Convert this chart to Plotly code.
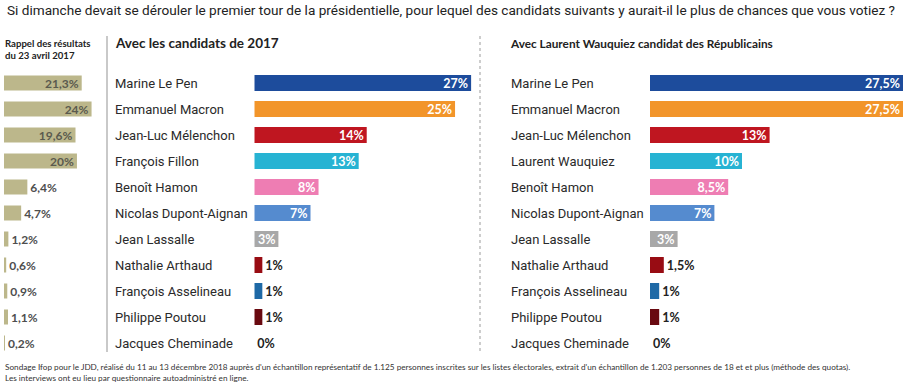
import plotly.graph_objects as go

# ---------------- data ----------------
candidates_2017 = ["Marine Le Pen", "Emmanuel Macron", "Jean-Luc Mélenchon", "François Fillon",
                   "Benoît Hamon", "Nicolas Dupont-Aignan", "Jean Lassalle", "Nathalie Arthaud",
                   "François Asselineau", "Philippe Poutou", "Jacques Cheminade"]
candidates_wauquiez = ["Marine Le Pen", "Emmanuel Macron", "Jean-Luc Mélenchon", "Laurent Wauquiez",
                       "Benoît Hamon", "Nicolas Dupont-Aignan", "Jean Lassalle", "Nathalie Arthaud",
                       "François Asselineau", "Philippe Poutou", "Jacques Cheminade"]
rappel_2017 = [21.3, 24, 19.6, 20, 6.4, 4.7, 1.2, 0.6, 0.9, 1.1, 0.2]
scores_2017 = [27, 25, 14, 13, 8, 7, 3, 1, 1, 1, 0]
scores_wauquiez = [27.5, 27.5, 13, 10, 8.5, 7, 3, 1.5, 1, 1, 0]
party_colors = ["#1d4c9c", "#f2952a", "#bf1620", "#27b3d3", "#ee7db3", "#558bcf",
                "#a8a8a8", "#980c13", "#1e69a6", "#690910", "#ffffff"]

title_text = ("Si dimanche devait se dérouler le premier tour de la présidentielle, pour lequel des "
              "candidats suivants y aurait-il le plus de chances que vous votiez ?")
rappel_title = "Rappel des résultats<br>du 23 avril 2017"
panel_titles = ["Avec les candidats de 2017", "Avec Laurent Wauquiez candidat des Républicains"]
footer_text = ("Sondage Ifop pour le JDD, réalisé du 11 au 13 décembre 2018 auprès d'un échantillon "
               "représentatif de 1.125 personnes inscrites sur les listes électorales, extrait d'un "
               "échantillon de 1.203 personnes de 18 et et plus (méthode des quotas).<br>"
               "Les interviews ont eu lieu par questionnaire autoadministré en ligne.")

W, H = 906, 390
NARROW = "Lato, Roboto, sans-serif"
REG = "Roboto, Liberation Sans, Arial, sans-serif"


def fmt(v):
    return f"{v:g}".replace(".", ",") + "%"


def px(x):
    return x / W


def py(y):
    return 1 - y / H


fig = go.Figure()

# Rappel bars
fig.add_trace(go.Bar(
    x=rappel_2017, y=candidates_2017, orientation="h", xaxis="x", yaxis="y",
    marker=dict(color="#bcb78b", line=dict(width=0)), width=0.58,
    text=[fmt(v) for v in rappel_2017],
    textposition=["inside" if v >= 10 else "outside" for v in rappel_2017],
    insidetextanchor="end", constraintext="none", cliponaxis=False,
    insidetextfont=dict(family=NARROW, size=12, color="#5a5a4e", weight=700),
    outsidetextfont=dict(family=NARROW, size=12, color="#4e4e4e", weight=700),
    hoverinfo="skip",
))

for vals, cands, xa, ya in [(scores_2017, candidates_2017, "x2", "y2"),
                             (scores_wauquiez, candidates_wauquiez, "x3", "y3")]:
    fig.add_trace(go.Bar(
        x=vals, y=cands, orientation="h", xaxis=xa, yaxis=ya,
        marker=dict(color=party_colors, line=dict(width=0)), width=0.615,
        text=[fmt(v) for v in vals],
        textposition=["inside" if v >= 3 else "outside" for v in vals],
        insidetextanchor="end", constraintext="none", cliponaxis=False,
        insidetextfont=dict(family=NARROW, size=12.5, color="#ffffff", weight=700),
        outsidetextfont=dict(family=NARROW, size=12.5, color="#222222", weight=700),
        hoverinfo="skip",
    ))

ydom = [py(356), py(70)]
common_x = dict(showgrid=False, zeroline=False, showticklabels=False, ticks="", fixedrange=True)
common_y = dict(showgrid=False, zeroline=False, showticklabels=False, ticks="", type="category",
                range=[10.5, -0.5], domain=ydom, fixedrange=True)

fig.update_layout(
    width=W, height=H, margin=dict(l=0, r=0, t=0, b=0),
    paper_bgcolor="white", plot_bgcolor="white", showlegend=False,
    xaxis=dict(domain=[px(4), px(102.5)], range=[0, 27], anchor="y", **common_x),
    yaxis=dict(anchor="x", **common_y),
    xaxis2=dict(domain=[px(254.3), px(476)], range=[0, (476 - 254.3) / 8.03], anchor="y2", **common_x),
    yaxis2=dict(anchor="x2", **common_y),
    xaxis3=dict(domain=[px(650), px(904)], range=[0, 254 / 9.2], anchor="y3", **common_x),
    yaxis3=dict(anchor="x3", **common_y),
)

ann = []
ann.append(dict(x=px(5), y=py(10), xref="paper", yref="paper", xanchor="left", yanchor="middle",
                text=title_text, showarrow=False, font=dict(family=REG, size=13.6, color="#222222")))
ann.append(dict(x=px(3), y=py(49), xref="paper", yref="paper", xanchor="left", yanchor="middle",
                text=rappel_title, showarrow=False, align="left",
                font=dict(family=NARROW, size=9.6, color="#222222", weight=700)))
ann.append(dict(x=px(113), y=py(43), xref="paper", yref="paper", xanchor="left", yanchor="middle",
                text=panel_titles[0], showarrow=False,
                font=dict(family=NARROW, size=13.5, color="#222222", weight=700)))
ann.append(dict(x=px(508), y=py(43), xref="paper", yref="paper", xanchor="left", yanchor="middle",
                text=panel_titles[1], showarrow=False,
                font=dict(family=NARROW, size=11.8, color="#222222", weight=700)))
for cands, xpix, ya in [(candidates_2017, 113, "y2"), (candidates_wauquiez, 509, "y3")]:
    for c in cands:
        ann.append(dict(x=px(xpix), y=c, xref="paper", yref=ya, xanchor="left", yanchor="middle",
                        text=c, showarrow=False, font=dict(family=REG, size=13, color="#2a2a2a")))
ann.append(dict(x=px(3), y=py(372), xref="paper", yref="paper", xanchor="left", yanchor="middle",
                text=footer_text, showarrow=False, align="left",
                font=dict(family=NARROW, size=8.2, color="#333333")))
fig.update_layout(annotations=ann)

fig.update_layout(shapes=[
    dict(type="line", xref="paper", yref="paper", x0=px(107), x1=px(107), y0=py(36), y1=py(352),
         line=dict(color="#c9c9c9", width=2)),
    dict(type="line", xref="paper", yref="paper", x0=px(480), x1=px(480), y0=py(36), y1=py(352),
         line=dict(color="#bdbdbd", width=1.5, dash="dot")),
])

fig.write_html("out.html", config={"displayModeBar": False},
               post_script="document.body.style.margin='0';")
